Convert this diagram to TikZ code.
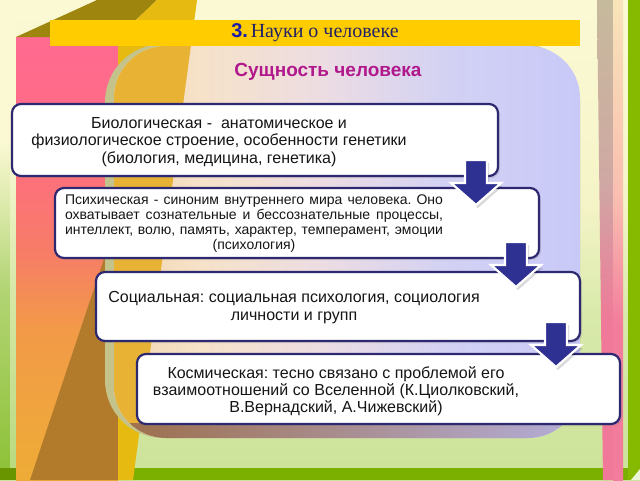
\documentclass[tikz,border=0pt]{standalone}
\usepackage{fontspec}
\setmainfont{Liberation Sans}
\newfontfamily\serifT{Liberation Serif}
\usetikzlibrary{shadows,calc}
\frenchspacing
\definecolor{bgtop}{HTML}{FBF9D4}
\definecolor{bgm}{HTML}{F5F4C8}
\definecolor{bgg}{HTML}{D8E9AA}
\definecolor{bgbot}{HTML}{CCE299}
\definecolor{lgA}{HTML}{8FC23A}
\definecolor{lgAm}{HTML}{B2D474}
\definecolor{lgB}{HTML}{B8DA80}
\definecolor{lgBm}{HTML}{D6E8A8}
\definecolor{botgreen}{HTML}{7CB000}
\definecolor{rgreen}{HTML}{86BA00}
\definecolor{colA}{HTML}{FF6A90}
\definecolor{colB}{HTML}{FF6C82}
\definecolor{colC}{HTML}{F77C68}
\definecolor{colD}{HTML}{F29A48}
\definecolor{colE}{HTML}{EEAC36}
\definecolor{brownT}{HTML}{B27B2C}
\definecolor{oliveT}{HTML}{9E860E}
\definecolor{goldT}{HTML}{E7BA12}
\definecolor{rimC}{HTML}{C5C38C}
\definecolor{amberC}{HTML}{E8B234}
\definecolor{pA}{HTML}{F2D6B0}
\definecolor{pB}{HTML}{F6E2C8}
\definecolor{pC}{HTML}{EDDDE2}
\definecolor{pD}{HTML}{D2D1F4}
\definecolor{pE}{HTML}{C9C9F8}
\definecolor{pshL}{HTML}{9C6C44}
\definecolor{pshR}{HTML}{B4AEDA}
\definecolor{sAt}{HTML}{C6BA9C}
\definecolor{sAm}{HTML}{CFA8A4}
\definecolor{sAb}{HTML}{F07898}
\definecolor{sBt}{HTML}{F8E4BA}
\definecolor{sBm}{HTML}{F9BDB0}
\definecolor{sBb}{HTML}{F27C9C}
\definecolor{titlebar}{HTML}{FFCC00}
\definecolor{tnum}{HTML}{1C1CA8}
\definecolor{tserif}{HTML}{222266}
\definecolor{subcol}{HTML}{B0188C}
\definecolor{boxline}{HTML}{2D2870}
\definecolor{arrblue}{HTML}{2E3192}
\definecolor{txtcol}{HTML}{151515}
\pgfdeclareverticalshading{bgsh}{100bp}{color(0bp)=(bgbot); color(25bp)=(bgbot); color(42bp)=(bgg); color(54bp)=(bgm); color(75bp)=(bgtop); color(100bp)=(bgtop)}
\pgfdeclareverticalshading{lstripA}{100bp}{color(0bp)=(lgA); color(25bp)=(lgA); color(44bp)=(lgAm); color(60bp)=(bgtop); color(100bp)=(bgtop)}
\pgfdeclareverticalshading{lstripB}{100bp}{color(0bp)=(lgB); color(25bp)=(lgB); color(44bp)=(lgBm); color(60bp)=(bgtop); color(100bp)=(bgtop)}
\pgfdeclareverticalshading{colsh}{100bp}{color(0bp)=(colE); color(25bp)=(colE); color(42bp)=(colD); color(51bp)=(colC); color(62bp)=(colB); color(75bp)=(colA); color(100bp)=(colA)}
\pgfdeclareverticalshading{rsA}{100bp}{color(0bp)=(sAb); color(25bp)=(sAb); color(41bp)=(sAb); color(56bp)=(sAm); color(75bp)=(sAt); color(100bp)=(sAt)}
\pgfdeclareverticalshading{rsB}{100bp}{color(0bp)=(sBb); color(25bp)=(sBb); color(41bp)=(sBb); color(54bp)=(sBm); color(75bp)=(sBt); color(100bp)=(sBt)}
\pgfdeclarehorizontalshading{panelsh}{100bp}{color(0bp)=(pA); color(25bp)=(pA); color(34bp)=(pB); color(47bp)=(pC); color(61bp)=(pD); color(75bp)=(pE); color(100bp)=(pE)}
\tikzset{
  box/.style={draw=boxline, line width=2.2pt, fill=white, rounded corners=9pt,
    inner sep=0pt, outer sep=0pt, anchor=north west,
    drop shadow={opacity=0.22, shadow xshift=2pt, shadow yshift=-2pt}},
  tx/.style={inner sep=0pt, text=txtcol, align=center},
  pics/downarr/.style={code={
    \fill[black, opacity=0.15] (-9,3) -- (13,3) -- (13,26) -- (27,26) -- (2,48) -- (-23,26) -- (-9,26) -- cycle;
    \path[fill=arrblue, draw=white, line width=2.2pt, line join=miter]
      (-11,0) -- (11,0) -- (11,23) -- (25,23) -- (0,45) -- (-25,23) -- (-11,23) -- cycle;
  }}
}
\begin{document}
\begin{tikzpicture}[x=1pt,y=-1pt]
\useasboundingbox (0,0) rectangle (640,480);
% background
\shade[shading=bgsh] (0,0) rectangle (640,480);
\fill[botgreen] (0,468) rectangle (640,480);
\shade[shading=lstripA] (0,0) rectangle (10,468);
\shade[shading=lstripB] (10,0) rectangle (16,468);
\fill[botgreen!85!black] (0,468) rectangle (16,480);
% right stripes
\shade[shading=rsA] (597,0) -- (613,0) -- (613,480) -- (603,480) -- cycle;
\shade[shading=rsB] (613,0) rectangle (623,480);
\fill[rgreen] (628,0) rectangle (640,480);
\fill[white!85!rgreen] (640,469) -- (640,480) -- (631,480) -- cycle;
% left column
\shade[shading=colsh] (16,37) rectangle (118,480);
\fill[brownT] (30,480) -- (112,235) -- (118,235) -- (118,480) -- cycle;
\fill[oliveT] (16,37) -- (97,0) -- (157,0) -- (118,37) -- cycle;
\fill[goldT] (118,37) -- (157,0) -- (197,0) -- (133,480) -- (118,480) -- cycle;
% panel
\fill[rimC, rounded corners=58pt] (105,44) rectangle (580,438);
\shade[shading=panelsh, rounded corners=52pt] (114,46) rectangle (580,438);
\begin{scope}
  \clip[rounded corners=52pt] (114,46) rectangle (580,438);
  \fill[amberC] (100,0) -- (197,0) -- (133,480) -- (100,480) -- cycle;
  \shade[left color=pshL, right color=pshR] (100,423) rectangle (580,438);
\end{scope}
% title
\node[fill=titlebar, minimum width=530pt, minimum height=26pt, inner sep=0pt] (title) at (315,33)
  {\textcolor{tnum}{\fontsize{20}{22}\selectfont\bfseries 3.} \textcolor{tserif}{\serifT\fontsize{20}{22}\selectfont Науки о человеке}};
\node[text=subcol, font=\bfseries\fontsize{19}{22}\selectfont, inner sep=0pt] (sub) at (328,72) {Сущность человека};
% boxes
\node[box, minimum width=486pt, minimum height=72pt] (b1) at (12,104) {};
\node[box, minimum width=484pt, minimum height=70pt] (b2) at (55,188) {};
\node[box, minimum width=484pt, minimum height=69pt] (b3) at (96,272) {};
\node[box, minimum width=483pt, minimum height=70pt] (b4) at (137,354) {};
% texts
\node[tx, font=\fontsize{16}{17.5}\selectfont] (t1) at (219,142)
  {Биологическая -~ анатомическое и\\физиологическое строение, особенности генетики\\(биология, медицина, генетика)};
\node[tx, font=\fontsize{14}{14.8}\selectfont] (t2) at (254,223.5)
  {\makebox[378pt][s]{Психическая - синоним внутреннего мира человека. Оно}\\
   \makebox[378pt][s]{охватывает сознательные и бессознательные процессы,}\\
   \makebox[378pt][s]{интеллект, волю, память, характер, темперамент, эмоции}\\
   (психология)};
\node[tx, font=\fontsize{16}{17.5}\selectfont] (t3) at (294,307.5)
  {Социальная: социальная психология, социология\\личности и групп};
\node[tx, font=\fontsize{16}{17}\selectfont] (t4) at (336,391)
  {Космическая: тесно связано с проблемой его\\взаимоотношений со Вселенной (К.Циолковский,\\В.Вернадский, А.Чижевский)};
% arrows
\pic (a1) at ($(b1.south east)+(-22,-16)$) {downarr};
\pic (a2) at ($(b2.south east)+(-23,-16)$) {downarr};
\pic (a3) at ($(b3.south east)+(-24,-19)$) {downarr};
\end{tikzpicture}
\end{document}
